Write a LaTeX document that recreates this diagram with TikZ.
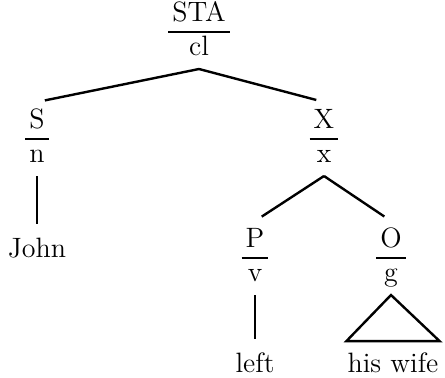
\documentclass[tikz,border=0pt]{standalone}
\usepackage{tikz}
\usetikzlibrary{calc}
\newcommand{\catlab}[2]{\setlength{\tabcolsep}{2pt}\setlength{\arrayrulewidth}{1pt}\begin{tabular}{c}#1\\\hline #2\end{tabular}}

\begin{document}
\begin{tikzpicture}[x=0.5pt, y=-0.5pt, line width=1.2pt,
		cat/.style={inner sep=0pt, outer sep=2pt, font=\fontsize{14}{16}\selectfont},
		word/.style={inner sep=0pt, anchor=base, font=\fontsize{14}{16}\selectfont},
		branch/.style={shorten >=4pt},
		stem/.style={shorten >=6pt}]
		%%%%% START %%%%%
		\useasboundingbox (0, 0) rectangle (445, 377);
		
		\node[cat] (sta) at (199, 32) {\catlab{STA}{cl}};
		\node[cat] (s) at (37, 139) {\catlab{S}{n}};
		\node[cat] (x) at (324, 139) {\catlab{X}{x}};
		\node[cat] (p) at (255, 258) {\catlab{P}{v}};
		\node[cat] (o) at (391, 258) {\catlab{O}{g}};
		
		\node[word] (john) at (37, 257) {John};
		\node[word] (left) at (255, 372) {left};
		\node[word] (wife) at (393, 372) {his wife};
		
		\draw[branch] (sta.south) -- (s.north);
		\draw[branch] (sta.south) -- (x.north);
		\draw[branch] (x.south) -- (p.north);
		\draw[branch] (x.south) -- (o.north);
		
		\draw[stem] (s.south) -- (john.north);
		\draw[stem] (p.south) -- (left.north);
		\draw (o.south) -- ([yshift=5pt]wife.north west) -- ([yshift=5pt]wife.north east) -- cycle;
		%%%%% END %%%%%
\end{tikzpicture}
\end{document}
